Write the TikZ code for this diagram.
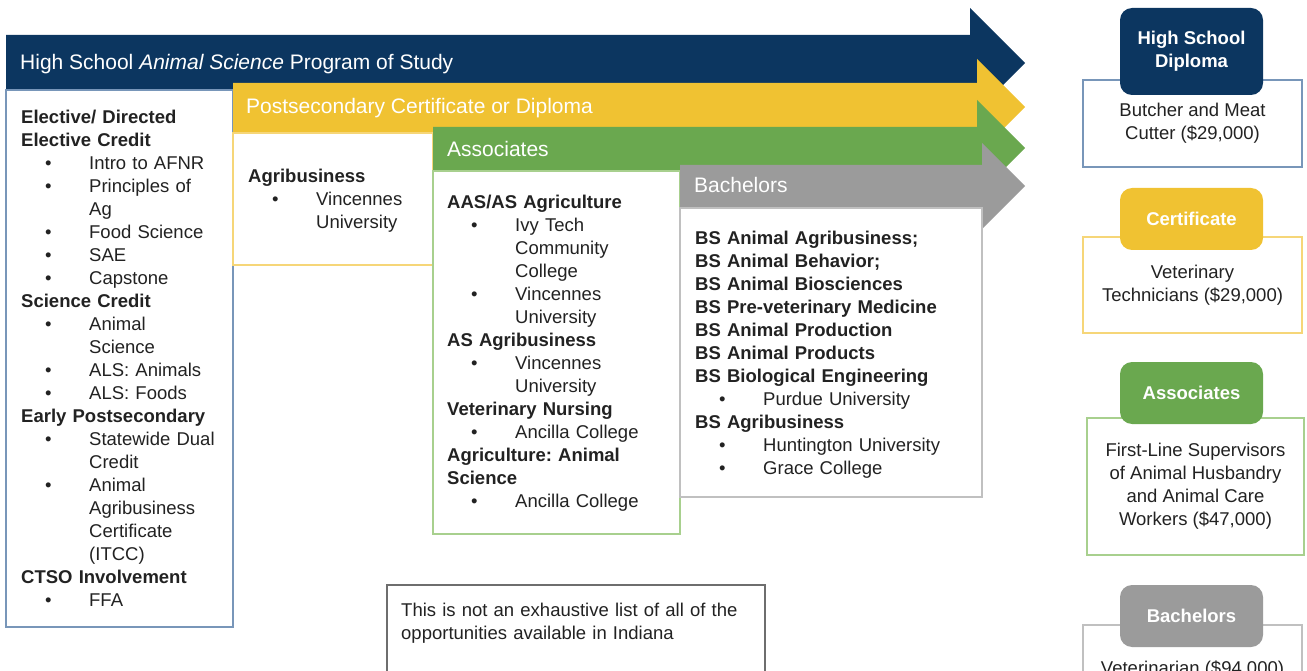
\documentclass[tikz,border=0pt]{standalone}
\usepackage{fontspec}
\setmainfont{Liberation Sans}
\usetikzlibrary{positioning}

\definecolor{navy}{RGB}{12,54,96}
\definecolor{gold}{RGB}{240,194,50}
\definecolor{leaf}{RGB}{106,168,79}
\definecolor{ash}{RGB}{155,155,155}
\definecolor{navyline}{RGB}{120,150,185}
\definecolor{goldline}{RGB}{246,214,120}
\definecolor{leafline}{RGB}{168,208,142}
\definecolor{ashline}{RGB}{192,192,192}
\definecolor{noteline}{RGB}{110,110,110}
\definecolor{ink}{RGB}{34,34,34}

% list helpers: heading, bullet item, continued item line
\newcommand{\hd}[1]{{\noindent\bfseries #1\par}}
\newcommand{\li}[1]{{\noindent\hspace*{24pt}\makebox[44pt][l]{\textbullet}#1\par}}
\newcommand{\lc}[1]{{\noindent\hspace*{68pt}#1\par}}

\begin{document}
\begin{tikzpicture}[x=1pt, y=-1pt,
  every node/.style={font=\fontsize{18.5}{23}\selectfont\frenchspacing, text=ink, inner sep=0pt},
  head/.style={anchor=mid west, text=white, font=\fontsize{21}{24}\selectfont},
  list/.style={anchor=north west, align=left},
  box/.style={line width=1.5pt, fill=white},
  tag/.style={rounded corners=12pt, text=white, align=center, minimum width=143pt, font=\fontsize{18.5}{23}\selectfont\bfseries},
  job/.style={line width=1.5pt, fill=white, align=center, minimum width=219pt}]

\useasboundingbox (0,0) rectangle (1307,671);
\begin{scope}
\clip (0,0) rectangle (1307,671);

% high school
\fill[navy] (6,35) -- (970,35) -- (970,8) -- (1025,63) -- (970,118) -- (970,90) -- (6,90) -- cycle;
\draw[box, draw=navyline] (6,90) rectangle (233,627);
\node[head] (hs) at (20,67) {High School \textit{Animal Science} Program of Study};
\node[list, text width=212pt] (hslist) at (21,110) {%
  \hd{Elective/ Directed\\Elective Credit}
  \li{Intro to AFNR}
  \li{Principles of}\lc{Ag}
  \li{Food Science}
  \li{SAE}
  \li{Capstone}
  \hd{Science Credit}
  \li{Animal}\lc{Science}
  \li{ALS: Animals}
  \li{ALS: Foods}
  \hd{Early Postsecondary}
  \li{Statewide Dual}\lc{Credit}
  \li{Animal}\lc{Agribusiness}\lc{Certificate}\lc{(ITCC)}
  \hd{CTSO Involvement}
  \li{FFA}};

% certificate
\fill[gold] (233,83) -- (977,83) -- (977,59) -- (1025,107) -- (977,155) -- (977,133) -- (233,133) -- cycle;
\draw[box, draw=goldline] (233,133) rectangle (433,265);
\node[head] (ps) at (246,110.5) {Postsecondary Certificate or Diploma};
\node[list, text width=185pt] (pslist) at (248,169) {%
  \hd{Agribusiness}
  \li{Vincennes}\lc{University}};

% associates
\fill[leaf] (433,127) -- (977,127) -- (977,100) -- (1025,148) -- (977,196) -- (977,171) -- (433,171) -- cycle;
\draw[box, draw=leafline] (433,171) rectangle (680,534);
\node[head] (as) at (447,154) {Associates};
\node[list, text width=230pt] (aslist) at (447,195) {%
  \hd{AAS/AS Agriculture}
  \li{Ivy Tech}\lc{Community}\lc{College}
  \li{Vincennes}\lc{University}
  \hd{AS Agribusiness}
  \li{Vincennes}\lc{University}
  \hd{Veterinary Nursing}
  \li{Ancilla College}
  \hd{Agriculture: Animal\\Science}
  \li{Ancilla College}};

% bachelors
\fill[ash] (680,165) -- (982,165) -- (982,143) -- (1025,186) -- (982,229) -- (982,208) -- (680,208) -- cycle;
\draw[box, draw=ashline] (680,208) rectangle (982,497);
\node[head] (bs) at (694,190) {Bachelors};
\node[list, text width=285pt] (bslist) at (695,231) {%
  \hd{BS Animal Agribusiness;}
  \hd{BS Animal Behavior;}
  \hd{BS Animal Biosciences}
  \hd{BS Pre-veterinary Medicine}
  \hd{BS Animal Production}
  \hd{BS Animal Products}
  \hd{BS Biological Engineering}
  \li{Purdue University}
  \hd{BS Agribusiness}
  \li{Huntington University}
  \li{Grace College}};

% note
\draw[box, line width=2pt, draw=noteline] (387,585) rectangle (765,700);
\node[list, text width=360pt] (note) at (401,603) {This is not an exhaustive list of all of the\\opportunities available in Indiana};

% careers
\node[job, draw=navyline, minimum height=87pt] (butcher) at (1192.5,123.5) {Butcher and Meat\\Cutter (\$29,000)};
\node[tag, fill=navy, minimum height=87pt] (diploma) at (1191.5,51.5) {High School\\Diploma};
\node[job, draw=goldline, minimum height=96pt] (vettech) at (1192.5,285) {Veterinary\\Technicians (\$29,000)};
\node[tag, fill=gold, minimum height=62pt] (certtag) at (1191.5,219) {Certificate};
\node[job, draw=leafline, minimum width=217pt, minimum height=137pt] (supv) at (1195.5,486.5) {First-Line Supervisors\\of Animal Husbandry\\and Animal Care\\Workers (\$47,000)};
\node[tag, fill=leaf, minimum height=62pt] (assoctag) at (1191.5,393) {Associates};
\node[job, draw=ashline, minimum height=90pt] (vet) at (1192.5,670) {Veterinarian (\$94,000)};
\node[tag, fill=ash, minimum height=62pt] (bachtag) at (1191.5,616) {Bachelors};
\end{scope}
\end{tikzpicture}
\end{document}
